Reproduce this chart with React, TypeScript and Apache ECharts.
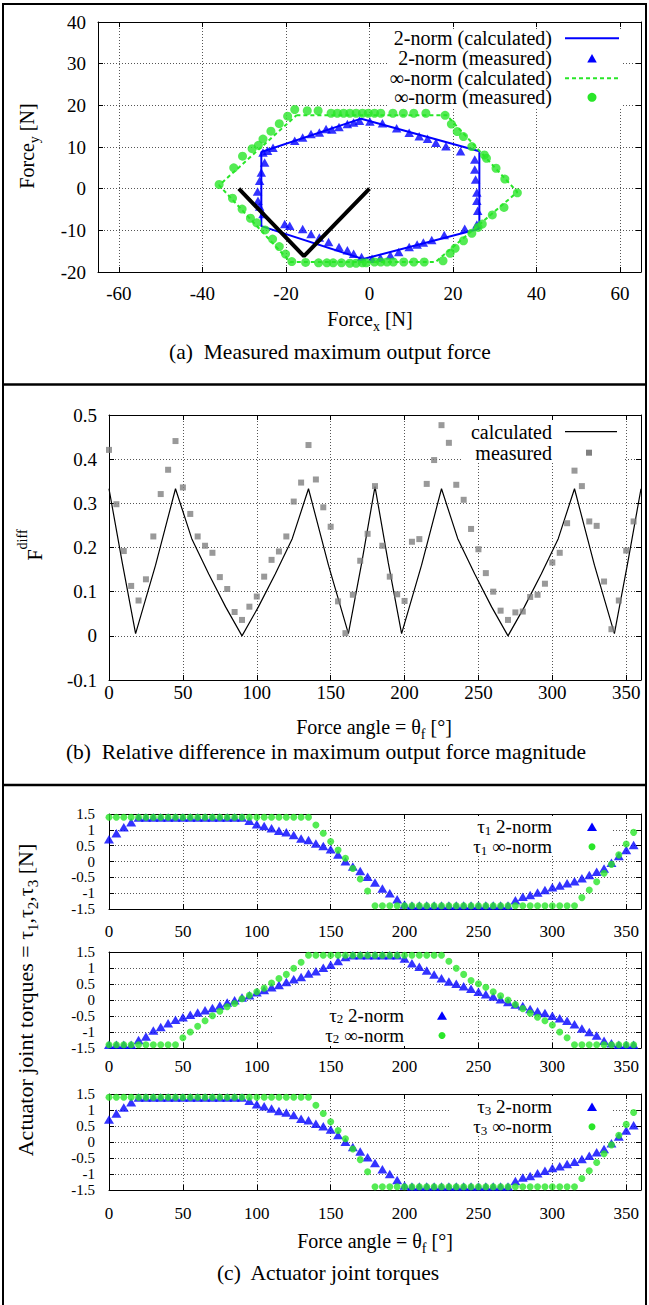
import React, { useEffect, useRef } from 'react';
import * as echarts from 'echarts';

const FONT = "'Liberation Serif', 'DejaVu Serif', 'Times New Roman', serif";
const BLUE = '#0000ff';
const GREEN = '#29e629';
const GREY = '#808080';

// ---------- Panel (a): maximum output force ----------
const twoNormCalc: number[][] = [
  [26.3, -9.6], [26.3, 9.0], [-2.0, 16.8], [-25.9, 8.8], [-25.9, -9.0], [-1.5, -16.9], [26.3, -9.6],
];
const twoNormMeas: number[][] = [
  [25.7, -0.9], [25.4, 2.2], [25.2, 4.6], [25.2, 7.0], [21.8, 9.0], [18.3, 10.2], [15.9, 11.0],
  [13.9, 12.0], [11.9, 12.6], [9.5, 13.4], [6.5, 14.5], [3.1, 15.7], [0.1, 16.1], [-2.4, 16.3],
  [-3.8, 15.9], [-5.3, 15.5], [-7.3, 14.8], [-9.0, 14.2], [-10.4, 14.3], [-12.0, 13.5], [-14.0, 13.1],
  [-16.0, 12.3], [-17.9, 11.5], [-23.1, 9.8], [-24.4, 9.1], [-25.5, 8.7], [-25.1, 6.3], [-25.9, 3.9],
  [-26.3, 1.9], [-26.8, -0.7], [-26.7, -2.9], [-26.3, -4.3], [-25.5, -6.1], [-20.3, -8.5], [-19.1, -8.9],
  [-16.0, -9.7], [-14.0, -10.9], [-12.0, -11.7], [-9.8, -12.8], [-7.3, -14.0], [-5.3, -14.8],
  [-3.8, -15.6], [-1.9, -16.4], [0.6, -16.8], [2.6, -16.6], [5.0, -16.0], [7.0, -15.2], [9.5, -14.0],
  [11.4, -13.4], [12.9, -12.9], [14.9, -12.3], [17.9, -11.1], [22.8, -9.6], [25.7, -8.6], [25.9, -5.3],
  [25.7, -2.9],
];
const infNormCalc: number[][] = [
  [-17.5, 17.6], [18.5, 17.6], [35.4, -0.8], [15.8, -17.6], [-19.0, -17.6], [-36.0, 0.8], [-17.5, 17.6],
];
const infNormMeas: number[][] = [
  [35.4, -1.0], [32.4, 2.3], [30.3, 4.9], [28.0, 7.3], [27.5, 8.1], [24.5, 10.1], [22.5, 12.5],
  [21.0, 13.7], [19.6, 15.5], [18.1, 17.6], [13.5, 18.1], [10.6, 18.1], [8.1, 18.1], [5.6, 18.1],
  [2.7, 18.1], [1.2, 18.1], [-0.3, 18.1], [-1.7, 18.1], [-3.2, 18.1], [-4.7, 18.1], [-6.2, 18.1],
  [-7.7, 18.1], [-9.2, 18.1], [-12.3, 18.7], [-14.9, 18.7], [-17.9, 19.0], [-19.6, 17.4], [-21.6, 15.6],
  [-23.6, 13.8], [-25.5, 11.9], [-26.6, 10.4], [-28.1, 9.6], [-30.4, 7.8], [-32.5, 5.0], [-36.0, 1.0],
  [-32.8, -2.3], [-30.5, -4.9], [-28.5, -7.1], [-27.0, -8.2], [-25.0, -9.9], [-23.2, -12.1],
  [-21.6, -13.9], [-20.1, -15.7], [-18.6, -17.5], [-15.3, -17.7], [-12.2, -17.8], [-10.2, -17.8],
  [-8.7, -17.8], [-6.7, -17.8], [-4.7, -17.9], [-3.2, -17.9], [-1.7, -17.8], [-0.8, -17.8], [1.2, -17.6],
  [2.7, -17.6], [4.2, -17.6], [5.7, -17.6], [8.2, -17.6], [10.6, -17.6], [13.1, -17.6], [17.6, -17.3],
  [19.3, -15.5], [20.5, -14.3], [22.5, -12.5], [24.5, -10.7], [26.0, -9.3], [27.0, -8.5], [29.4, -6.3],
  [32.2, -4.5],
];
const armLinks: number[][] = [[-31.3, 0], [-15.7, -16.2], [0, 0]];
const forceXTicks = [-60, -40, -20, 0, 20, 40, 60];

// ---------- Panel (b): relative difference ----------
const fdiffCalc: number[][] = [
  [0, 0.333], [9, 0.165], [18, 0.005], [31.5, 0.16], [45, 0.333], [56, 0.22], [67.5, 0.14], [79, 0.065],
  [90, 0], [101, 0.065], [112.5, 0.14], [124, 0.22], [135, 0.333], [148.5, 0.16], [162, 0.005],
  [171, 0.165], [180, 0.338], [189, 0.165], [198, 0.005], [211.5, 0.16], [225, 0.333], [236, 0.22],
  [247.5, 0.14], [259, 0.065], [270, 0], [281, 0.065], [292.5, 0.14], [304, 0.22], [315, 0.333],
  [328.5, 0.16], [342, 0.005], [351, 0.165], [360, 0.333],
];
const angles = [
  0, 5, 10, 15, 20, 25, 30, 35, 40, 45, 50, 55, 60, 65, 70, 75, 80, 85, 90, 95, 100, 105, 110, 115,
  120, 125, 130, 135, 140, 145, 150, 155, 160, 165, 170, 175, 180, 185, 190, 195, 200, 205, 210, 215,
  220, 225, 230, 235, 240, 245, 250, 255, 260, 265, 270, 275, 280, 285, 290, 295, 300, 305, 310, 315,
  320, 325, 330, 335, 340, 345, 350, 355,
];
const fdiffMeas = [
  0.421, 0.298, 0.192, 0.113, 0.080, 0.128, 0.225, 0.321, 0.376, 0.441, 0.336, 0.276, 0.225, 0.204,
  0.188, 0.133, 0.106, 0.054, 0.036, 0.066, 0.089, 0.134, 0.172, 0.191, 0.225, 0.304, 0.347, 0.432,
  0.354, 0.291, 0.247, 0.078, 0.006, 0.093, 0.170, 0.231, 0.339, 0.204, 0.134, 0.094, 0.079, 0.213,
  0.219, 0.344, 0.398, 0.477, 0.437, 0.342, 0.308, 0.242, 0.196, 0.142, 0.100, 0.057, 0.036, 0.053,
  0.055, 0.088, 0.093, 0.118, 0.166, 0.188, 0.255, 0.374, 0.339, 0.259, 0.249, 0.123, 0.015, 0.080,
  0.193, 0.259,
];
const angleTicks = [0, 50, 100, 150, 200, 250, 300, 350];
const torqueTicks = [-1.5, -1, -0.5, 0, 0.5, 1, 1.5];

// ---------- Panel (c): actuator joint torques ----------
const tau1TwoNorm = [
  0.70, 0.89, 1.08, 1.24, 1.39, 1.39, 1.39, 1.39, 1.39, 1.39, 1.39, 1.39, 1.39, 1.39, 1.39, 1.39,
  1.39, 1.39, 1.39, 1.29, 1.18, 1.12, 1.05, 0.97, 0.92, 0.84, 0.73, 0.68, 0.57, 0.49, 0.39, 0.22,
  0.01, -0.16, -0.30, -0.48, -0.66, -0.85, -1.00, -1.19, -1.36, -1.39, -1.39, -1.39, -1.39, -1.39,
  -1.39, -1.39, -1.39, -1.39, -1.39, -1.39, -1.39, -1.39, -1.39, -1.22, -1.11, -1.06, -0.98, -0.90,
  -0.81, -0.76, -0.69, -0.62, -0.53, -0.43, -0.32, -0.22, -0.04, 0.17, 0.36, 0.52,
];
const tau1InfNorm = [
  1.40, 1.40, 1.40, 1.40, 1.40, 1.40, 1.40, 1.40, 1.40, 1.40, 1.40, 1.40, 1.40, 1.40, 1.40, 1.40,
  1.40, 1.40, 1.40, 1.40, 1.40, 1.40, 1.40, 1.40, 1.40, 1.40, 1.40, 1.40, 1.15, 0.89, 0.63, 0.36,
  0.10, -0.22, -0.55, -0.93, -1.40, -1.40, -1.40, -1.40, -1.40, -1.40, -1.40, -1.40, -1.40, -1.40,
  -1.40, -1.40, -1.40, -1.40, -1.40, -1.40, -1.40, -1.40, -1.40, -1.40, -1.40, -1.40, -1.40, -1.40,
  -1.40, -1.40, -1.40, -1.40, -1.14, -0.90, -0.64, -0.37, -0.09, 0.21, 0.55, 0.92,
];
const tau2TwoNorm = [
  -1.40, -1.40, -1.40, -1.40, -1.25, -1.14, -0.95, -0.84, -0.73, -0.62, -0.54, -0.46, -0.39, -0.32,
  -0.25, -0.17, -0.08, -0.01, 0.08, 0.15, 0.24, 0.31, 0.40, 0.47, 0.56, 0.65, 0.72, 0.83, 0.90, 1.01,
  1.10, 1.22, 1.34, 1.40, 1.40, 1.40, 1.40, 1.40, 1.40, 1.40, 1.30, 1.15, 1.04, 0.92, 0.80, 0.68,
  0.58, 0.51, 0.43, 0.35, 0.26, 0.18, 0.11, 0.02, -0.06, -0.14, -0.19, -0.28, -0.35, -0.41, -0.49,
  -0.57, -0.65, -0.76, -0.89, -1.00, -1.11, -1.27, -1.35, -1.40, -1.40, -1.40,
];
const tau2InfNorm = [
  -1.40, -1.40, -1.40, -1.40, -1.40, -1.40, -1.40, -1.40, -1.40, -1.40, -1.18, -1.00, -0.82, -0.65,
  -0.49, -0.35, -0.21, -0.11, 0.04, 0.15, 0.26, 0.37, 0.53, 0.67, 0.80, 0.99, 1.18, 1.40, 1.40, 1.40,
  1.40, 1.40, 1.40, 1.40, 1.40, 1.40, 1.40, 1.40, 1.40, 1.40, 1.40, 1.40, 1.40, 1.40, 1.40, 1.40,
  1.21, 0.99, 0.80, 0.61, 0.51, 0.40, 0.26, 0.13, 0.00, -0.14, -0.27, -0.41, -0.54, -0.65, -0.78,
  -1.00, -1.18, -1.40, -1.40, -1.40, -1.40, -1.40, -1.40, -1.40, -1.40, -1.40,
];
const tau3TwoNorm = [
  0.70, 0.89, 1.08, 1.24, 1.39, 1.39, 1.39, 1.39, 1.39, 1.39, 1.39, 1.39, 1.39, 1.39, 1.39, 1.39,
  1.39, 1.39, 1.39, 1.29, 1.18, 1.12, 1.05, 0.97, 0.92, 0.84, 0.73, 0.68, 0.57, 0.49, 0.39, 0.22,
  0.01, -0.16, -0.30, -0.48, -0.66, -0.85, -1.00, -1.19, -1.36, -1.39, -1.39, -1.39, -1.39, -1.39,
  -1.39, -1.39, -1.39, -1.39, -1.39, -1.39, -1.39, -1.39, -1.39, -1.22, -1.11, -1.06, -0.98, -0.90,
  -0.81, -0.76, -0.69, -0.62, -0.53, -0.43, -0.32, -0.22, -0.04, 0.17, 0.36, 0.52,
];
const tau3InfNorm = [
  1.40, 1.40, 1.40, 1.40, 1.40, 1.40, 1.40, 1.40, 1.40, 1.40, 1.40, 1.40, 1.40, 1.40, 1.40, 1.40,
  1.40, 1.40, 1.40, 1.40, 1.40, 1.40, 1.40, 1.40, 1.40, 1.40, 1.40, 1.40, 1.15, 0.89, 0.63, 0.36,
  0.10, -0.22, -0.55, -0.93, -1.40, -1.40, -1.40, -1.40, -1.40, -1.40, -1.40, -1.40, -1.40, -1.40,
  -1.40, -1.40, -1.40, -1.40, -1.40, -1.40, -1.40, -1.40, -1.40, -1.40, -1.40, -1.40, -1.40, -1.40,
  -1.40, -1.40, -1.40, -1.40, -1.14, -0.90, -0.64, -0.37, -0.09, 0.21, 0.55, 0.92,
];

// ---------- helpers ----------
const pair = (vals: number[]) => vals.map((v, i) => [angles[i], v]);

const gridLine = { show: true, lineStyle: { color: '#555', width: 1, type: [1, 2] } };
const axLine = { show: true, onZero: false, lineStyle: { color: '#000', width: 1 } };
const tickIn = (extra: any = {}) => ({ show: true, inside: true, length: 5, lineStyle: { color: '#000', width: 1 }, ...extra });
const lbl = (fs: number, margin: number, extra: any = {}) => ({
  show: true, margin, showMinLabel: true, showMaxLabel: true, hideOverlap: false,
  fontFamily: 'Liberation Serif', fontSize: fs, color: '#000', lineHeight: fs,
  ...extra,
});

function xPair(gi: number, min: number, max: number, ticks: number[], label: any) {
  return [
    { type: 'value', gridIndex: gi, position: 'bottom', min, max, axisLine: axLine,
      axisTick: tickIn({ customValues: ticks }), axisLabel: { ...label, customValues: ticks }, splitLine: gridLine },
    { type: 'value', gridIndex: gi, position: 'top', min, max, axisLine: axLine,
      axisTick: tickIn({ customValues: ticks }), axisLabel: { show: false }, splitLine: { show: false } },
  ];
}
function yPair(gi: number, min: number, max: number, interval: number, label: any) {
  return [
    { type: 'value', gridIndex: gi, position: 'left', min, max, interval, axisLine: axLine,
      axisTick: tickIn(), axisLabel: label, splitLine: gridLine },
    { type: 'value', gridIndex: gi, position: 'right', min, max, interval, axisLine: axLine,
      axisTick: tickIn(), axisLabel: { show: false }, splitLine: { show: false } },
  ];
}

// rich styles: b = base text, s = subscript, B = base under a superscript, u = superscript
const mkRich = (fs: number, lh: number, subLh?: number) => ({
  b: { fontFamily: FONT, fontSize: fs, lineHeight: lh, verticalAlign: 'top', fill: '#000' },
  s: subLh
    ? { fontFamily: FONT, fontSize: Math.round(fs * 0.7), lineHeight: subLh, verticalAlign: 'bottom', fill: '#000' }
    : { fontFamily: FONT, fontSize: Math.round(fs * 0.7), verticalAlign: 'bottom', fill: '#000' },
  B: { fontFamily: FONT, fontSize: fs, lineHeight: fs + 10, verticalAlign: 'bottom', fill: '#000' },
  u: { fontFamily: FONT, fontSize: Math.round(fs * 0.72), verticalAlign: 'top', fill: '#000' },
});

function txt(x: number, y: number, text: string, fs: number, align = 'center', rotate = false, rich = false,
  lh?: number, subLh?: number): any {
  const style: any = {
    text, fontFamily: FONT, fontSize: fs, fill: '#000',
    align, textAlign: align, verticalAlign: 'middle', textVerticalAlign: 'middle',
  };
  if (rich) style.rich = mkRich(fs, lh ?? fs + 4, subLh);
  else if (lh) style.lineHeight = lh;
  return { type: 'text', x, y, rotation: rotate ? Math.PI / 2 : 0, z: 20, style };
}
const box = (x: number, y: number, w: number, h: number) => ({
  type: 'rect', z: 15, shape: { x, y, width: w, height: h }, style: { fill: '#fff', stroke: 'none' },
});
const sampleLine = (x1: number, x2: number, y: number, color: string, width: number, dash?: number[]) => ({
  type: 'line', z: 20, shape: { x1, y1: y, x2, y2: y }, style: { stroke: color, lineWidth: width, lineDash: dash || null },
});
const tri = (cx: number, cy: number, w: number, h: number) => ({
  type: 'polygon', z: 20, shape: { points: [[cx, cy - h / 2], [cx + w / 2, cy + h / 2], [cx - w / 2, cy + h / 2]] },
  style: { fill: BLUE },
});
const dot = (cx: number, cy: number, r: number) => ({ type: 'circle', z: 20, shape: { cx, cy, r }, style: { fill: GREEN } });

const TITLE = 20;
const CAP = 21.5;
const LEG = 20;
const LEG_LH = 18;
const LEGC = 19;
const LEGC_LH = 19.6;
const SUB_LH = 6;
const TRI_C: number[] = [10, 8.5];
const DOT_C = 7;

const option: any = {
  animation: false,
  backgroundColor: '#fff',
  textStyle: { fontFamily: 'Liberation Serif' },
  grid: [
    { left: 98, top: 22, width: 543, height: 250 },
    { left: 109, top: 415, width: 532, height: 265 },
    { left: 109, top: 814, width: 532, height: 95 },
    { left: 109, top: 952, width: 532, height: 96 },
    { left: 109, top: 1094, width: 532, height: 96 },
  ],
  xAxis: [
    ...xPair(0, -65, 65, forceXTicks, lbl(19, 12)),
    ...xPair(1, 0, 360, angleTicks, lbl(19, 3)),
    ...xPair(2, 0, 360, angleTicks, lbl(17, 14)),
    ...xPair(3, 0, 360, angleTicks, lbl(17, 10)),
    ...xPair(4, 0, 360, angleTicks, lbl(17, 15)),
  ],
  yAxis: [
    ...yPair(0, -20, 40, 10, lbl(19, 12)),
    ...yPair(1, -0.1, 0.5, 0.1, lbl(19, 12)),
    ...yPair(2, -1.5, 1.5, 0.5, lbl(15, 14, { lineHeight: 14, customValues: torqueTicks })),
    ...yPair(3, -1.5, 1.5, 0.5, lbl(15, 14, { lineHeight: 14, customValues: torqueTicks })),
    ...yPair(4, -1.5, 1.5, 0.5, lbl(15, 14, { lineHeight: 14, customValues: torqueTicks })),
  ],
  series: [
    { name: '2-norm (calculated)', type: 'line', xAxisIndex: 0, yAxisIndex: 0, data: twoNormCalc,
      symbol: 'none', lineStyle: { color: BLUE, width: 2 }, z: 3 },
    { name: '2-norm (measured)', type: 'scatter', xAxisIndex: 0, yAxisIndex: 0, data: twoNormMeas,
      symbol: 'triangle', symbolSize: [9.5, 8.5], itemStyle: { color: BLUE }, z: 4 },
    { name: '∞-norm (calculated)', type: 'line', xAxisIndex: 0, yAxisIndex: 0, data: infNormCalc,
      symbol: 'none', lineStyle: { color: GREEN, width: 2, type: [4, 3] }, z: 5 },
    { name: '∞-norm (measured)', type: 'scatter', xAxisIndex: 0, yAxisIndex: 0, data: infNormMeas,
      symbol: 'circle', symbolSize: 9, itemStyle: { color: GREEN }, z: 6 },
    { name: 'arm', type: 'line', xAxisIndex: 0, yAxisIndex: 0, data: armLinks,
      symbol: 'none', lineStyle: { color: '#000', width: 4 }, z: 7 },

    { name: 'calculated', type: 'line', xAxisIndex: 2, yAxisIndex: 2, data: fdiffCalc,
      symbol: 'none', lineStyle: { color: '#000', width: 1.2 }, z: 3 },
    { name: 'measured', type: 'scatter', xAxisIndex: 2, yAxisIndex: 2, data: pair(fdiffMeas),
      symbol: 'rect', symbolSize: 6, itemStyle: { color: GREY }, z: 4 },

    { name: 'τ1 2-norm', type: 'scatter', xAxisIndex: 4, yAxisIndex: 4, data: pair(tau1TwoNorm),
      symbol: 'triangle', symbolSize: TRI_C, itemStyle: { color: BLUE }, z: 3 },
    { name: 'τ1 ∞-norm', type: 'scatter', xAxisIndex: 4, yAxisIndex: 4, data: pair(tau1InfNorm),
      symbol: 'circle', symbolSize: DOT_C, itemStyle: { color: GREEN }, z: 4 },
    { name: 'τ2 2-norm', type: 'scatter', xAxisIndex: 6, yAxisIndex: 6, data: pair(tau2TwoNorm),
      symbol: 'triangle', symbolSize: TRI_C, itemStyle: { color: BLUE }, z: 3 },
    { name: 'τ2 ∞-norm', type: 'scatter', xAxisIndex: 6, yAxisIndex: 6, data: pair(tau2InfNorm),
      symbol: 'circle', symbolSize: DOT_C, itemStyle: { color: GREEN }, z: 4 },
    { name: 'τ3 2-norm', type: 'scatter', xAxisIndex: 8, yAxisIndex: 8, data: pair(tau3TwoNorm),
      symbol: 'triangle', symbolSize: TRI_C, itemStyle: { color: BLUE }, z: 3 },
    { name: 'τ3 ∞-norm', type: 'scatter', xAxisIndex: 8, yAxisIndex: 8, data: pair(tau3InfNorm),
      symbol: 'circle', symbolSize: DOT_C, itemStyle: { color: GREEN }, z: 4 },
  ],
  graphic: [
    { type: 'rect', z: 30, shape: { x: 3, y: 4, width: 643, height: 1320 }, style: { fill: 'none', stroke: '#000', lineWidth: 2 } },
    { type: 'line', z: 30, shape: { x1: 3, y1: 384.5, x2: 646, y2: 384.5 }, style: { stroke: '#000', lineWidth: 2.5 } },
    { type: 'line', z: 30, shape: { x1: 3, y1: 785, x2: 646, y2: 785 }, style: { stroke: '#000', lineWidth: 2.5 } },

    txt(29, 146, '{b|Force}{s|y}{b| [N]}', TITLE, 'center', true, true),
    txt(370, 321, '{b|Force}{s|x}{b| [N]}', TITLE, 'center', false, true),
    txt(330, 352, '(a)  Measured maximum output force', CAP),
    box(387, 30, 236, 77),
    txt(552, 38.3, '2-norm (calculated)', LEG, 'right', false, false, LEG_LH),
    sampleLine(565, 619, 38.3, BLUE, 2),
    txt(552, 58.3, '2-norm (measured)', LEG, 'right', false, false, LEG_LH),
    tri(592, 58.3, 9.5, 8.5),
    txt(552, 78.3, '∞-norm (calculated)', LEG, 'right', false, false, LEG_LH),
    sampleLine(565, 619, 78.3, GREEN, 2, [4, 3]),
    txt(552, 97.3, '∞-norm (measured)', LEG, 'right', false, false, LEG_LH),
    dot(592, 97.3, 4.5),

    txt(30, 545, '{B|F}{u|diff}', TITLE, 'center', true, true),
    txt(374, 729, '{b|Force angle = θ}{s|f}{b| [°]}', TITLE, 'center', false, true),
    txt(326, 752, '(b)  Relative difference in maximum output force magnitude', CAP),
    box(462, 420, 161, 43),
    txt(552, 431.7, 'calculated', LEG, 'right', false, false, LEG_LH),
    sampleLine(565, 617, 431.7, '#000', 1.2),
    txt(552, 452.7, 'measured', LEG, 'right', false, false, LEG_LH),
    { type: 'rect', z: 20, shape: { x: 586, y: 449.7, width: 6, height: 6 }, style: { fill: GREY } },

    txt(27, 1000, '{b|Actuator joint torques = τ}{s|1}{b|,τ}{s|2}{b|,τ}{s|3}{b| [N]}', 22, 'center', true, true),
    txt(375, 1243, '{b|Force angle = θ}{s|f}{b| [°]}', TITLE, 'center', false, true),
    txt(328, 1273, '(c)  Actuator joint torques', CAP),

    box(450, 816, 162, 40),
    txt(552, 826.7, '{b|τ}{s|1}{b| 2-norm}', LEGC, 'right', false, true, LEGC_LH, SUB_LH),
    tri(592, 826.7, 10, 8.5),
    txt(552, 846.7, '{b|τ}{s|1}{b| ∞-norm}', LEGC, 'right', false, true, LEGC_LH, SUB_LH),
    dot(592, 846.7, 3.5),

    box(272, 1004, 188, 42),
    txt(404, 1015.5, '{b|τ}{s|2}{b| 2-norm}', LEGC, 'right', false, true, LEGC_LH, SUB_LH),
    tri(442, 1015.5, 10, 8.5),
    txt(404, 1035.5, '{b|τ}{s|2}{b| ∞-norm}', LEGC, 'right', false, true, LEGC_LH, SUB_LH),
    dot(442, 1035.5, 3.5),

    box(450, 1096, 162, 40),
    txt(552, 1106.7, '{b|τ}{s|3}{b| 2-norm}', LEGC, 'right', false, true, LEGC_LH, SUB_LH),
    tri(592, 1106.7, 10, 8.5),
    txt(552, 1126.7, '{b|τ}{s|3}{b| ∞-norm}', LEGC, 'right', false, true, LEGC_LH, SUB_LH),
    dot(592, 1126.7, 3.5),
  ],
};

export default function App() {
  const ref = useRef<HTMLDivElement>(null);
  useEffect(() => {
    if (!ref.current) return;
    const chart = echarts.init(ref.current, null, { renderer: 'svg' });
    chart.setOption(option);
    return () => chart.dispose();
  }, []);
  return (
    <div
      ref={ref}
      style={{ position: 'absolute', left: 0, top: 0, width: 649, height: 1305, background: '#fff' }}
    />
  );
}
